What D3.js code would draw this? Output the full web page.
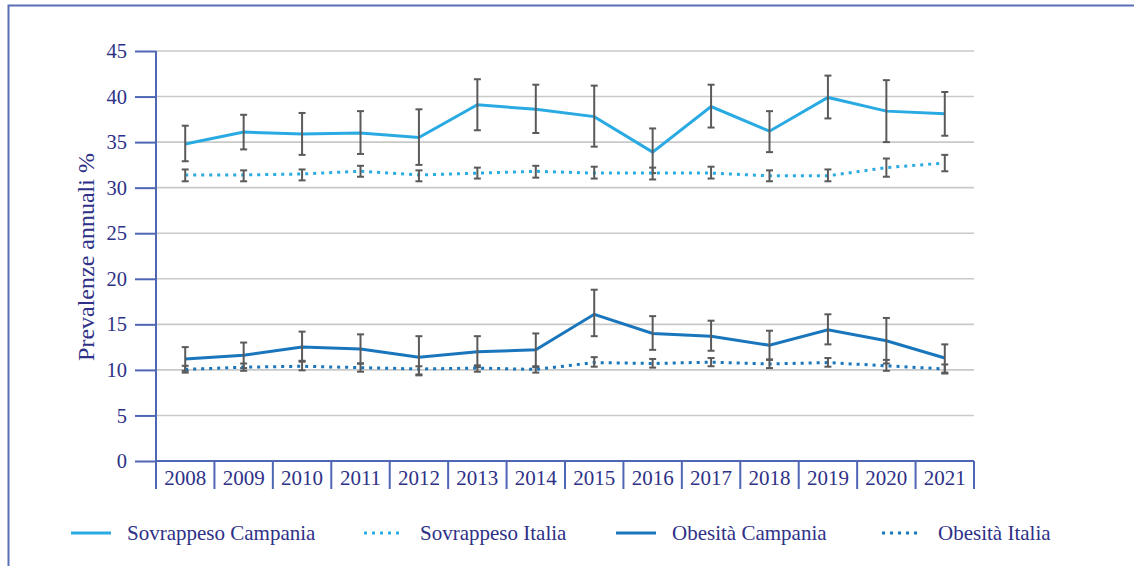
<!DOCTYPE html>
<html>
<head>
<meta charset="utf-8">
<script src="https://cdn.jsdelivr.net/npm/d3@7"></script>
<style>
  body { margin: 0; background: #fff; }
  text { font-family: "Liberation Serif", "Times New Roman", serif; fill: #2e3187; }
</style>
</head>
<body>
<div id="chart"></div>
<script>
let years = ["2008","2009","2010","2011","2012","2013","2014","2015","2016","2017","2018","2019","2020","2021"]
let yTicks = [0,5,10,15,20,25,30,35,40,45]

let sovCampania   = [34.8,36.1,35.9,36.0,35.5,39.1,38.6,37.8,33.9,38.9,36.2,39.9,38.4,38.1]
let sovCampaniaHi = [36.8,38.0,38.2,38.4,38.6,41.9,41.3,41.2,36.5,41.3,38.4,42.3,41.8,40.5]
let sovCampaniaLo = [32.9,34.2,33.6,33.7,32.5,36.3,36.0,34.5,31.6,36.6,33.9,37.6,35.0,35.7]

let sovItalia   = [31.4,31.4,31.5,31.8,31.4,31.6,31.8,31.6,31.6,31.6,31.3,31.3,32.2,32.7]
let sovItaliaHi = [32.0,31.9,32.0,32.4,31.9,32.2,32.4,32.3,32.2,32.3,31.9,32.0,33.2,33.6]
let sovItaliaLo = [30.7,30.7,30.8,31.2,30.7,31.0,31.1,31.0,30.9,31.0,30.7,30.7,31.2,31.8]

let obeCampania   = [11.2,11.6,12.5,12.3,11.4,12.0,12.2,16.1,14.0,13.7,12.7,14.4,13.2,11.3]
let obeCampaniaHi = [12.5,13.0,14.2,13.9,13.7,13.7,14.0,18.8,15.9,15.4,14.3,16.1,15.7,12.8]
let obeCampaniaLo = [9.9,10.2,10.9,10.7,9.4,10.3,10.3,13.7,12.2,12.1,11.1,12.8,10.7,9.7]

let obeItalia   = [10.05,10.3,10.4,10.25,10.1,10.2,10.05,10.8,10.7,10.85,10.65,10.8,10.45,10.1]
let obeItaliaHi = [10.45,10.7,11.0,10.7,10.4,10.5,10.4,11.4,11.2,11.3,11.15,11.3,11.1,10.6]
let obeItaliaLo = [9.7,9.9,9.95,9.8,9.5,9.8,9.7,10.35,10.25,10.4,10.2,10.35,9.9,9.6]

let legendLabels = ["Sovrappeso Campania","Sovrappeso Italia","Obesità Campania","Obesità Italia"]

let lightBlue = "#2aaae2"
let darkBlue = "#1a76bc"
let axisColor = "#4f66b5"

let series = [
  {name: legendLabels[0], v: sovCampania, hi: sovCampaniaHi, lo: sovCampaniaLo, color: lightBlue, dash: null},
  {name: legendLabels[1], v: sovItalia, hi: sovItaliaHi, lo: sovItaliaLo, color: lightBlue, dash: "3,5"},
  {name: legendLabels[2], v: obeCampania, hi: obeCampaniaHi, lo: obeCampaniaLo, color: darkBlue, dash: null},
  {name: legendLabels[3], v: obeItalia, hi: obeItaliaHi, lo: obeItaliaLo, color: darkBlue, dash: "3,5"}
]

let width = 1134, height = 566
let margin = {top: 51, left: 156, right: 160, bottom: 105}

let svg = d3.select('#chart')
            .append('svg')
            .attr('width', width)
            .attr('height', height)

// outer frame
svg.append('rect')
    .attr('x', 8.5).attr('y', 5.5)
    .attr('width', 1200).attr('height', 700)
    .attr('fill', 'none')
    .attr('stroke', '#5a6fb8')
    .attr('stroke-width', 2)

let x = d3.scaleBand()
          .domain(years)
          .range([margin.left, width - margin.right])

let y = d3.scaleLinear()
          .domain([0, 45])
          .range([height - margin.bottom, margin.top])

// gridlines
svg.append('g')
    .selectAll('line')
    .data(yTicks.filter(d => d > 0))
    .enter()
    .append('line')
    .attr('x1', margin.left).attr('x2', width - margin.right)
    .attr('y1', d => y(d)).attr('y2', d => y(d))
    .attr('stroke', '#c9c9c9')
    .attr('stroke-width', 1.6)

// y axis
let yAxis = svg.append('g')
    .attr('transform', 'translate(' + margin.left + ',0)')
    .call(d3.axisLeft(y).tickValues(yTicks).tickSize(21).tickPadding(8))
yAxis.selectAll('line, path').attr('stroke', axisColor).attr('stroke-width', 2)
yAxis.select('.domain').attr('d', 'M0,' + y(45) + 'V' + y(0))
yAxis.selectAll('text')
    .style('font-size', '20.5px')
    .style('font-family', '"Liberation Serif", serif')
    .attr('fill', '#2e3187')

// x axis (band separators)
let xAxis = svg.append('g')
    .attr('transform', 'translate(0,' + y(0) + ')')
    .call(d3.axisBottom(x).tickSize(0).tickPadding(6))
xAxis.select('.domain').attr('stroke', axisColor).attr('stroke-width', 2)
    .attr('d', 'M' + margin.left + ',0H' + (width - margin.right))
xAxis.selectAll('text')
    .style('font-size', '21px')
    .style('font-family', '"Liberation Serif", serif')
    .attr('fill', '#2e3187')
    .attr('dy', '0.86em')
xAxis.selectAll('.sep')
    .data(years.concat(['end']))
    .enter()
    .append('line')
    .attr('class', 'sep')
    .attr('x1', (d, i) => margin.left + i * x.step())
    .attr('x2', (d, i) => margin.left + i * x.step())
    .attr('y1', 0).attr('y2', 28)
    .attr('stroke', axisColor)
    .attr('stroke-width', 2)

// y label
svg.append('text')
    .attr('transform', 'translate(94,' + 257 + ') rotate(-90)')
    .attr('text-anchor', 'middle')
    .style('font-size', '24px')
    .text('Prevalenze annuali %')

let cx = d => x(d) + x.bandwidth() / 2

let line = d3.line()
    .x(d => cx(d.year))
    .y(d => y(d.v))

series.forEach(s => {
    let pts = years.map((yr, i) => ({year: yr, v: s.v[i], hi: s.hi[i], lo: s.lo[i]}))

    svg.append('path')
        .datum(pts)
        .attr('d', line)
        .attr('fill', 'none')
        .attr('stroke', s.color)
        .attr('stroke-width', 3)
        .attr('stroke-dasharray', s.dash)

    let eb = svg.append('g').selectAll('g')
        .data(pts)
        .enter()
        .append('g')
        .attr('stroke', '#5a5a5a')
        .attr('stroke-width', 2)
    eb.append('line')
        .attr('x1', d => cx(d.year)).attr('x2', d => cx(d.year))
        .attr('y1', d => y(d.hi)).attr('y2', d => y(d.lo))
    eb.append('line')
        .attr('x1', d => cx(d.year) - 3.5).attr('x2', d => cx(d.year) + 3.5)
        .attr('y1', d => y(d.hi)).attr('y2', d => y(d.hi))
    eb.append('line')
        .attr('x1', d => cx(d.year) - 3.5).attr('x2', d => cx(d.year) + 3.5)
        .attr('y1', d => y(d.lo)).attr('y2', d => y(d.lo))
})

// legend
let legendX = [71, 364, 616, 882]
let legend = svg.append('g')
    .selectAll('g')
    .data(series)
    .enter()
    .append('g')
    .attr('transform', (d, i) => 'translate(' + legendX[i] + ',533)')
legend.append('line')
    .attr('x1', 0).attr('x2', 40)
    .attr('stroke', d => d.color)
    .attr('stroke-width', 3)
    .attr('stroke-dasharray', d => d.dash)
legend.append('text')
    .attr('x', 56)
    .attr('dy', '0.33em')
    .style('font-size', '21px')
    .text(d => d.name)
</script>
</body>
</html>
